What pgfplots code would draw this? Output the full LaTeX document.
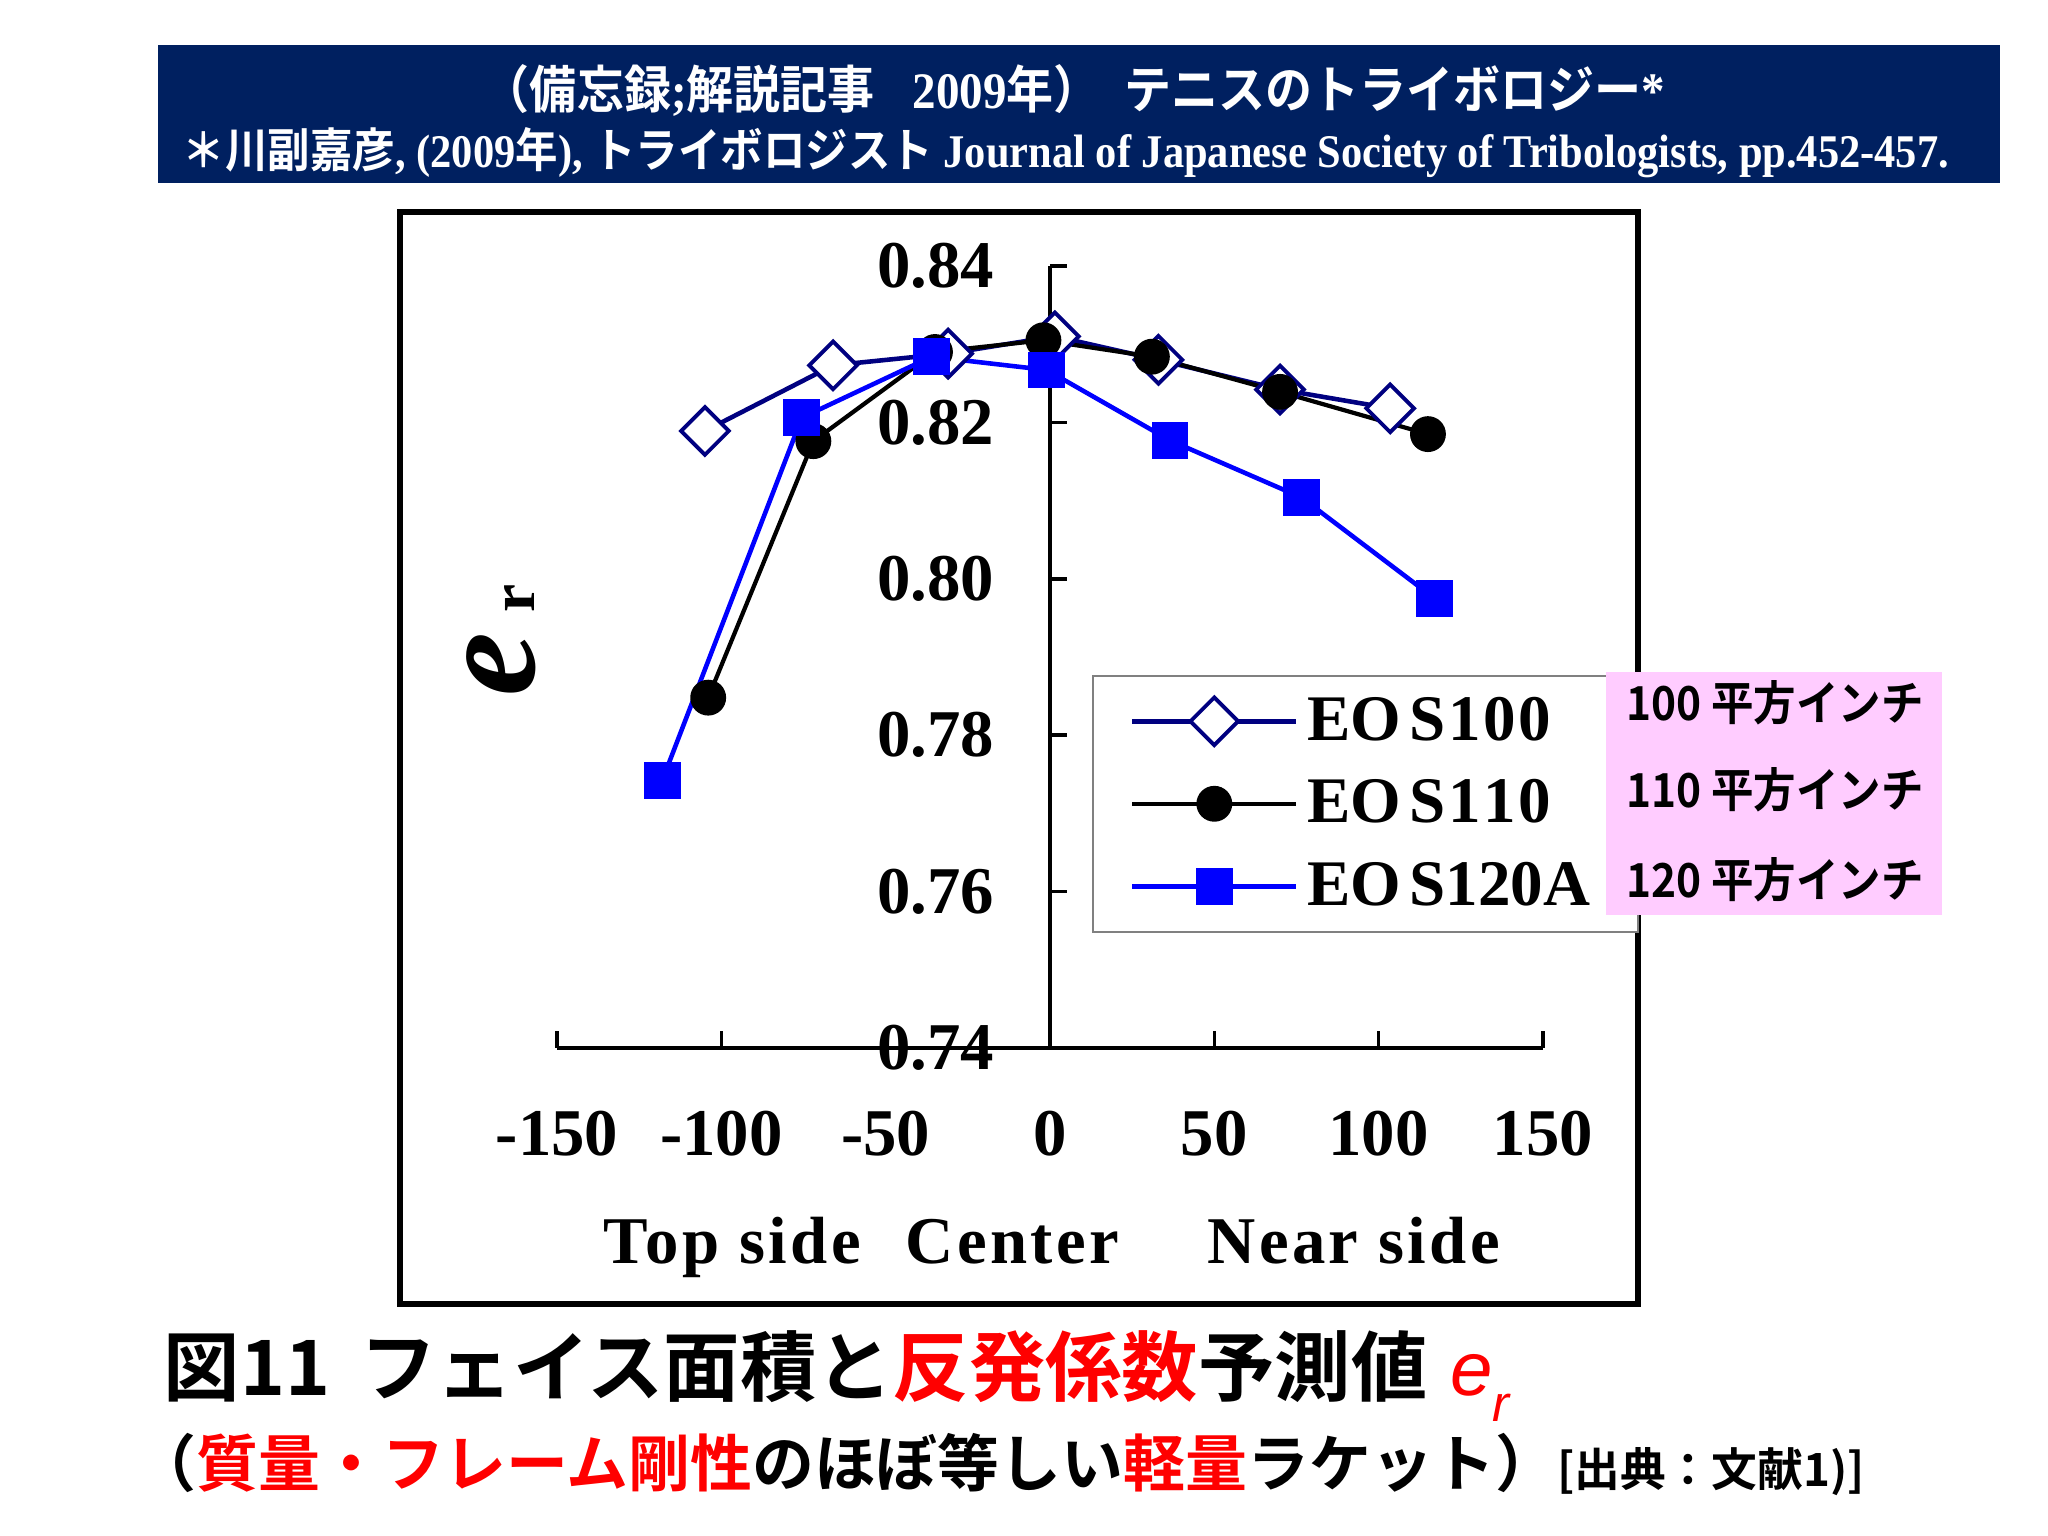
\documentclass[border=0pt]{standalone}
\usepackage{fontspec}
\setmainfont{Liberation Serif}
\setsansfont{Liberation Sans}
\newfontfamily\cjk{Noto Sans CJK JP}[BoldFont={Noto Sans CJK JP Bold}]
\newfontfamily\spaced{Liberation Serif}[LetterSpace=5]
\usepackage{pgfplots}
\pgfplotsset{compat=1.18}
\definecolor{banner}{RGB}{0,32,96}
\definecolor{navyline}{RGB}{0,0,128}
\definecolor{pinkbox}{RGB}{255,204,255}
\definecolor{myblue}{RGB}{0,0,255}
\newcommand{\J}[1]{{\cjk\bfseries #1}}
\begin{document}
\begin{tikzpicture}
\useasboundingbox (0,0) rectangle (20.48,15.36);
\fill[white] (0,0) rectangle (20.48,15.36);
% banner
\fill[banner] (1.58,13.53) rectangle (20.00,14.91);
\node[inner sep=0, text=white] at (10.74,14.46) {\resizebox{11.82cm}{0.44cm}{\bfseries\J{（備忘録};\J{解説記事}\hspace{0.8em}2009\J{年）}\hspace{0.5em}\J{テニスのトライボロジー}*}};
\node[inner sep=0, text=white] at (10.66,13.83) {\resizebox{17.66cm}{0.40cm}{\bfseries\J{＊川副嘉彦}, (2009\J{年}), \J{トライボロジスト} Journal of Japanese Society of Tribologists, pp.452-457.}};
% chart frame
\draw[line width=1.5pt] (4.00,2.32) rectangle (16.38,13.24);
\begin{axis}[
  at={(5.57cm,4.88cm)}, anchor=south west,
  scale only axis, width=9.86cm, height=7.82cm,
  xmin=-150, xmax=150, ymin=0.74, ymax=0.84,
  axis x line=bottom, axis y line=middle,
  axis line style={-, line width=1pt, black},
  hide obscured x ticks=false, hide obscured y ticks=false,
  xtick={-150,-100,-50,0,50,100,150},
  xticklabels={-150,-100,-50,0,50,100,150},
  ytick={0.74,0.76,0.78,0.80,0.82,0.84},
  yticklabels={0.74,0.76,0.78,0.80,0.82,0.84},
  major tick length=0.17cm,
  tick style={line width=1pt, black},
  xtick align=inside, ytick align=inside,
  ticklabel style={font=\bfseries\fontsize{19}{20}\selectfont},
  xticklabel style={inner sep=0pt, yshift=-0.62cm},
  yticklabel style={inner sep=0pt, xshift=-0.55cm},
  clip=false,
  legend style={at={(0.5426,0.477)}, anchor=north west, draw=gray, line width=0.6pt, fill=white,
    inner xsep=0.37cm, inner ysep=0.11cm, row sep=0.14cm,
    font=\bfseries\fontsize{18.5}{20}\selectfont,
    nodes={inner xsep=0.09cm, inner ysep=0.1cm}},
  legend cell align=left,
  legend image code/.code={\draw[mark repeat=2, mark phase=2] plot coordinates {(0cm,0cm) (0.82cm,0cm) (1.64cm,0cm)};},
]
\addplot[color=navyline, line width=1.3pt, mark=square*, mark size=4.8pt,
  mark options={rotate=45, fill=white, draw=navyline, line width=1.1pt}]
  coordinates {(-105,0.8189) (-66,0.8273) (-31,0.8288) (1.5,0.8310) (33,0.8280) (70,0.8242) (103.5,0.8218)};
\addlegendentry{\makebox[2.84cm][l]{EO\hspace{0.12em}S\hspace{0.04em}1\hspace{0.04em}0\hspace{0.04em}0}}
\addplot[color=black, line width=1.2pt, mark=*, mark size=4.5pt, mark options={fill=black}]
  coordinates {(-104,0.7848) (-72,0.8176) (-35,0.8290) (-2,0.8305) (31,0.8284) (70,0.8239) (115,0.8185)};
\addlegendentry{\makebox[2.84cm][l]{EO\hspace{0.12em}S\hspace{0.04em}1\hspace{0.04em}1\hspace{0.04em}0}}
\addplot[color=myblue, line width=1.3pt, mark=square*, mark size=4.6pt, mark options={fill=myblue, draw=myblue}]
  coordinates {(-118,0.7742) (-75.5,0.8206) (-36,0.8284) (-1,0.8267) (36.5,0.8177) (76.5,0.8104) (117,0.7975)};
\addlegendentry{\makebox[2.84cm][l]{EO\hspace{0.12em}S120A}}
\node[rotate=90, anchor=base west, inner sep=0] at (axis description cs:-0.0233,0.449)
  {{\fontsize{41}{41}\selectfont\bfseries\itshape e}\hspace{0.2cm}{\fontsize{18}{18}\selectfont\bfseries r}};
\node[anchor=base west, inner sep=0, font=\spaced\bfseries\fontsize{19}{20}\selectfont] at (axis description cs:0.0467,-0.275)
  {\makebox[3.02cm][l]{Top side}\makebox[3.02cm][l]{Center}Near side};
\end{axis}
% pink box
\fill[pinkbox] (16.06,6.21) rectangle (19.42,8.64);
\node[anchor=west, inner sep=0] at (16.26,8.33) {\resizebox{2.97cm}{0.40cm}{\J{100 平方インチ}}};
\node[anchor=west, inner sep=0] at (16.26,7.46) {\resizebox{2.97cm}{0.40cm}{\J{110 平方インチ}}};
\node[anchor=west, inner sep=0] at (16.26,6.56) {\resizebox{2.97cm}{0.40cm}{\J{120 平方インチ}}};
% captions
\node[anchor=west, inner sep=0] at (1.63,1.60) {\resizebox{13.46cm}{!}{\fontsize{21}{22}\selectfont\J{図11\hspace{0.4em}フェイス面積と\textcolor{red}{反発係数}予測値}\hspace{0.3em}\textcolor{red}{\sffamily\itshape e\raisebox{-0.35em}{\fontsize{14}{14}\selectfont r}}}};
\node[anchor=west, inner sep=0] at (1.34,0.71) {\resizebox{17.3cm}{!}{\J{\fontsize{17.6}{18}\selectfont （\textcolor{red}{質量・フレーム剛性}のほぼ等しい\textcolor{red}{軽量}ラケット）\fontsize{13}{14}\selectfont [出典：文献1)]}}};
\end{tikzpicture}
\end{document}
